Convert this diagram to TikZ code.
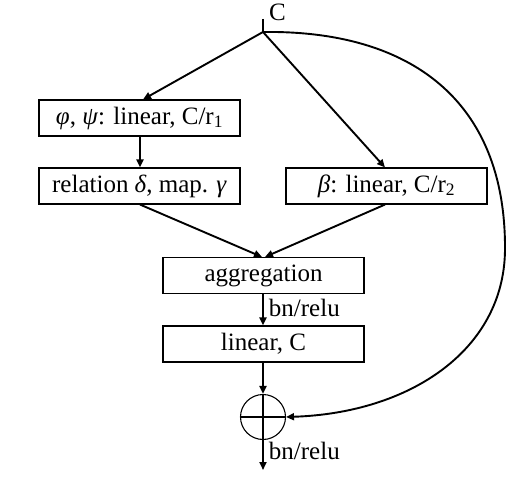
\documentclass[tikz,border=0pt]{standalone}
\usepackage{fontspec}
\setmainfont{Liberation Serif}
\usetikzlibrary{arrows.meta}
\begin{document}
\begin{tikzpicture}[x=1pt,y=-1pt,
  box/.style={draw,line width=1.1pt,minimum width=201pt,minimum height=36pt,inner sep=0pt,font=\fontsize{25}{28}\selectfont},
  conn/.style={line width=1.9pt,-{Triangle[length=8pt,width=7pt]}},
  lbl/.style={font=\fontsize{25}{28}\selectfont,inner sep=0pt}]
\useasboundingbox (0,0) rectangle (524,481);
\coordinate (top) at (263,19);
\coordinate (j) at (263,32);
\node[lbl,anchor=west] (c) at (269,12) {C};
\node[box] (b1) at (139.5,118) {\textit{φ}, \textit{ψ}: linear, C/r\textsubscript{1}};
\node[box] (b2) at (139.5,186) {relation \textit{δ}, map. \textit{γ}};
\node[box] (b3) at (386.5,186) {\textit{β}: linear, C/r\textsubscript{2}};
\node[box] (agg) at (263.5,275.5) {aggregation};
\node[box] (lin) at (263.5,344) {linear, C};
\node[draw,circle,line width=1.1pt,minimum size=45pt,inner sep=0pt] (ring) at (263,417) {};
\draw[line width=1.1pt] (ring.north) -- (ring.south) (ring.west) -- (ring.east);
\coordinate (out) at (263,470);
\draw[line width=1.9pt] (top) -- (j);
\draw[conn] (j) -- (b1.north -| 143,0);
\draw[conn] (j) -- (b3.north -| 385,0);
\draw[conn] (b1.south -| 140,0) -- (b2.north -| 140,0);
\draw[conn] (b2.south -| 140,0) -- (agg.north -| 262,0);
\draw[conn] (b3.south -| 385,0) -- (agg.north -| 265,0);
\draw[conn] (agg.south -| 263,0) -- node[lbl,anchor=west,xshift=5pt,yshift=2pt] (bn1) {bn/relu} (lin.north -| 263,0);
\draw[conn] (lin.south -| 263,0) -- (ring.north);
\draw[conn] (ring.south) -- node[lbl,anchor=west,xshift=5pt,yshift=4pt] (bn2) {bn/relu} (out);
\draw[conn] (j) .. controls (410,30) and (506,100) .. (505,250) .. controls (504,350) and (410,413) .. (ring.east);
\end{tikzpicture}
\end{document}
